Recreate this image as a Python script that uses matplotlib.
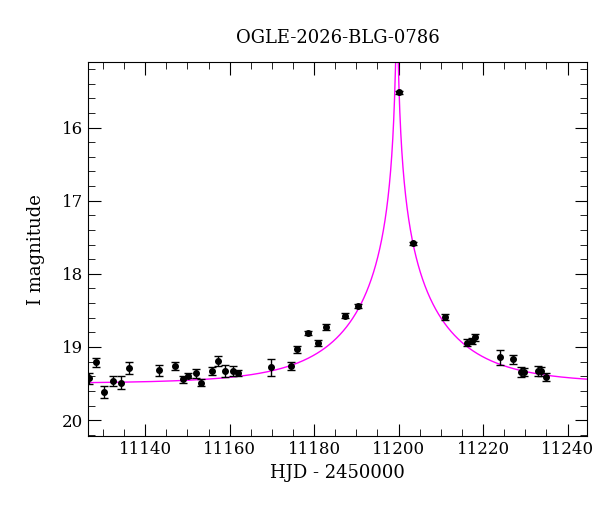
import numpy as np
import matplotlib
matplotlib.use("Agg")
import matplotlib.pyplot as plt
from matplotlib.ticker import MultipleLocator

plt.rcParams['font.family'] = ['DejaVu Serif']

hjd = [11126.7, 11128.4, 11130.3, 11132.4, 11134.3, 11136.2, 11143.3, 11147.1, 11149.0,
       11150.2, 11152.1, 11153.3, 11155.9, 11157.3, 11159.0, 11160.9, 11162.0, 11169.9,
       11174.6, 11176.0, 11178.6, 11180.8, 11182.7, 11187.4, 11190.5, 11200.2, 11203.3,
       11211.1, 11216.1, 11217.3, 11218.2, 11224.1, 11227.0, 11228.9, 11229.8, 11232.9,
       11233.8, 11235.0]
mag = [19.43, 19.21, 19.62, 19.47, 19.49, 19.29, 19.32, 19.26, 19.44, 19.39, 19.36, 19.49,
       19.33, 19.19, 19.33, 19.33, 19.36, 19.28, 19.26, 19.03, 18.81, 18.94, 18.73, 18.57,
       18.44, 15.52, 17.58, 18.59, 18.94, 18.92, 18.87, 19.14, 19.17, 19.34, 19.34, 19.33,
       19.33, 19.41]
err = [0.07, 0.06, 0.08, 0.07, 0.09, 0.08, 0.08, 0.06, 0.05, 0.04, 0.06, 0.05, 0.05, 0.07,
       0.08, 0.07, 0.04, 0.11, 0.05, 0.05, 0.03, 0.04, 0.04, 0.03, 0.03, 0.02, 0.02, 0.04,
       0.05, 0.04, 0.05, 0.10, 0.06, 0.07, 0.05, 0.07, 0.06, 0.05]

# model parameters
t0, tE, u0, m0 = 11199.6, 22.0, 0.01, 19.50

fig = plt.figure(figsize=(6.0, 5.12), dpi=100)
ax = fig.add_axes([0.147, 0.148, 0.832, 0.73])
t = np.linspace(11120, 11250, 20000)
u = np.sqrt(u0**2 + ((t - t0) / tE)**2)
A = (u**2 + 2) / (u * np.sqrt(u**2 + 4))
ax.plot(t, m0 - 2.5 * np.log10(A), color='#ff00ff', lw=1)
ax.errorbar(hjd, mag, yerr=err, fmt='o', color='black', ms=4, capsize=3, elinewidth=1, capthick=1)

ax.set_xlim(11126.5, 11244.7)
ax.set_ylim(20.22, 15.11)
ax.xaxis.set_major_locator(MultipleLocator(20))
ax.xaxis.set_minor_locator(MultipleLocator(5))
ax.yaxis.set_major_locator(MultipleLocator(1))
ax.yaxis.set_minor_locator(MultipleLocator(0.2))
ax.tick_params(which='both', direction='in', top=True, right=True, labelsize=12)
ax.tick_params(which='major', length=9)
ax.tick_params(which='minor', length=5)
ax.set_xlabel('HJD - 2450000', fontsize=13)
ax.set_ylabel('I magnitude', fontsize=13, labelpad=12)
ax.set_title('OGLE-2026-BLG-0786', fontsize=13, pad=14)
fig.savefig('out.png')
